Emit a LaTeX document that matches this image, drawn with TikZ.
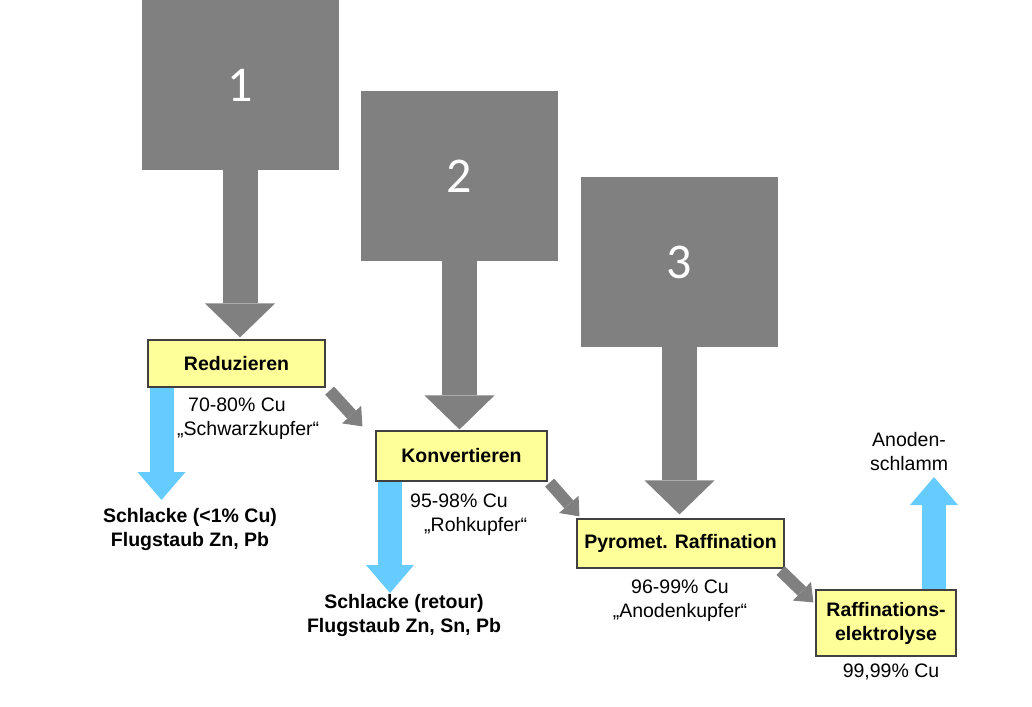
\documentclass[tikz,border=0pt]{standalone}
\usepackage{fontspec}
\setmainfont{Liberation Sans}
\newfontfamily\numfont{Carlito}
\usepackage{xcolor}
\usetikzlibrary{arrows.meta,calc}

\definecolor{blockgrey}{RGB}{128,128,128}
\definecolor{procyellow}{RGB}{255,255,153}
\definecolor{residueblue}{RGB}{102,204,255}

\tikzset{
  input/.style={fill=blockgrey, minimum width=197pt, minimum height=170pt, inner sep=0pt,
    text=white, font=\numfont\fontsize{50}{60}\selectfont},
  proc/.style={draw=black!75, line width=1.2pt, fill=procyellow, inner sep=0pt,
    align=center, font=\bfseries\fontsize{19.5}{24}\selectfont},
  note/.style={inner sep=0pt, font=\fontsize{19.5}{24}\selectfont},
  waste/.style={inner sep=0pt, align=center, font=\bfseries\fontsize{19.5}{24}\selectfont},
  feed/.style={draw=blockgrey, line width=35pt,
    -{Triangle[width=70pt,length=34pt,line width=0pt]}},
  flow/.style={draw=blockgrey, line width=12pt,
    -{Triangle[width=26pt,length=16pt,line width=0pt]}},
  residue/.style={draw=residueblue, line width=24pt,
    -{Triangle[width=48pt,length=28pt,line width=0pt]}},
}

\begin{document}
\begin{tikzpicture}[x=1pt,y=-1pt]
  \useasboundingbox (0,0) rectangle (1032,706);

  % inputs
  \node [input] (g1) at (240,85) {1};
  \node [input] (g2) at (459.5,176) {2};
  \node [input] (g3) at (679.5,262) {3};

  % process steps
  \node [proc, minimum width=177pt, minimum height=47pt] (red) at (236.5,363.5) {Reduzieren};
  \node [proc, minimum width=171pt, minimum height=50pt] (konv) at (461.5,456) {Konvertieren};
  \node [proc, minimum width=207pt, minimum height=49pt] (pyro) at (680.5,543.5) {Pyromet. Raffination};
  \node [proc, minimum width=140pt, minimum height=66pt] (raff) at (886,623) {Raffinations-\\elektrolyse};

  % products
  \node [note, align=left, anchor=west] (redtxt) at (177,419) {\hspace*{11pt}70-80\% Cu\\„Schwarzkupfer“};
  \node [note, align=left, anchor=west] (konvtxt) at (410,515) {95-98\% Cu\\\hspace*{14pt}„Rohkupfer“};
  \node [note, align=center] (pyrotxt) at (680,601) {96-99\% Cu\\„Anodenkupfer“};
  \node [note] (rafftxt) at (891,672) {99,99\% Cu};

  % residues
  \node [waste] (slag1) at (190,529) {Schlacke (<1\% Cu)\\Flugstaub Zn, Pb};
  \node [waste] (slag2) at (404,615) {Schlacke (retour)\\Flugstaub Zn, Sn, Pb};
  \node [note, align=center] (sludge) at (909,452) {Anoden-\\schlamm};

  \coordinate (s1) at (161.5,500);
  \coordinate (s2) at (390,593);
  \coordinate (s3) at (934,477);

  % arrows
  \draw [feed] (g1.south) -- ($(g1.south |- red.north)+(0,-2)$);
  \draw [feed] (g2.south) -- ($(g2.south |- konv.north)+(0,-1)$);
  \draw [feed] (g3.south) -- ($(g3.south |- pyro.north)+(0,-4)$);

  \draw [flow] ($(red.south east)+(4,3)$) -- ($(konv.north west)+(-13,-4)$);
  \draw [flow] ($(konv.south east)+(2,1)$) -- ($(pyro.north west)+(3,-2)$);
  \draw [flow] ($(pyro.south east)+(-4,2)$) -- ($(raff.north west)+(-2,13)$);

  \draw [residue] (red.south -| s1) -- (s1);
  \draw [residue] (konv.south -| s2) -- (s2);
  \draw [residue] (raff.north -| s3) -- (s3);
\end{tikzpicture}
\end{document}
